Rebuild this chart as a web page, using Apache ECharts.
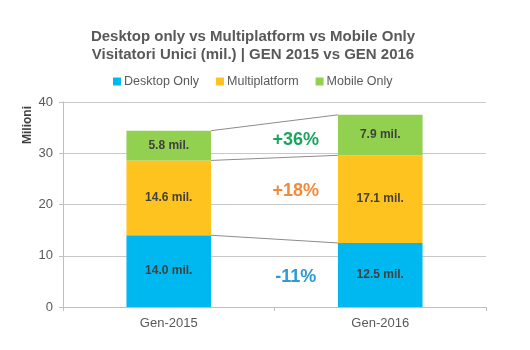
<!DOCTYPE html>
<html>
<head>
<meta charset="utf-8">
<script src="https://cdn.jsdelivr.net/npm/echarts@6/dist/echarts.min.js"></script>
<style>
  html, body { margin: 0; padding: 0; background: #fff; }
  #chart { width: 530px; height: 350px; }
</style>
</head>
<body>
<div id="chart"></div>
<script>
const categories = ['Gen-2015', 'Gen-2016'];
const desktopOnly = [14.0, 12.5];
const multiplatform = [14.6, 17.1];
const mobileOnly = [5.8, 7.9];
const changes = ['-11%', '+18%', '+36%'];
// value on the y axis where each change label sits
const changeAt = [5.9, 22.6, 32.6];
const yTicks = [0, 10, 20, 30, 40];

const seriesNames = ['Desktop Only', 'Multiplatform', 'Mobile Only'];
const colors = ['#00B8F0', '#FFC31F', '#92D050'];
const changeColors = ['#2E9AD4', '#F28A3C', '#1AA55E'];
const FONT = '"Liberation Sans", Arial, sans-serif';

const segments = [desktopOnly, multiplatform, mobileOnly];
// cumulative tops of every segment, per category
const tops = segments.map((s, i) =>
  categories.map((c, j) => segments.slice(0, i + 1).reduce((a, arr) => a + arr[j], 0))
);

const chart = echarts.init(document.getElementById('chart'));

function renderLinks(params, api) {
  const i = api.value(0);
  const band = api.size([1, 0])[0];
  const half = band * 0.2;
  const p0 = api.coord([0, tops[i][0]]);
  const p1 = api.coord([1, tops[i][1]]);
  const lp = api.coord([0, changeAt[i]]);
  const lx = p0[0] + (p1[0] - p0[0]) * 0.6;
  return {
    type: 'group',
    children: [
      {
        type: 'line',
        shape: { x1: p0[0] + half, y1: p0[1], x2: p1[0] - half, y2: p1[1] },
        style: { stroke: '#8C8C8C', lineWidth: 1 }
      },
      {
        type: 'text',
        x: lx, y: lp[1],
        style: {
          text: changes[i], fill: changeColors[i], font: 'bold 18px ' + FONT,
          align: 'center', verticalAlign: 'middle'
        }
      }
    ]
  };
}

const barSeries = seriesNames.map((name, i) => ({
  name: name,
  type: 'bar',
  stack: 'total',
  barWidth: '40%',
  itemStyle: { color: colors[i] },
  label: {
    show: true,
    position: 'inside',
    formatter: p => p.value.toFixed(1) + ' mil.',
    color: '#404040',
    fontWeight: 'bold',
    fontSize: 12,
    fontFamily: FONT
  },
  data: segments[i]
}));

chart.setOption({
  animation: false,
  title: {
    text: 'Desktop only vs Multiplatform vs Mobile Only\nVisitatori Unici (mil.) | GEN 2015 vs GEN 2016',
    left: 248,
    top: 23,
    textAlign: 'center',
    textStyle: { fontFamily: FONT, fontSize: 15, fontWeight: 'bold', color: '#595959', lineHeight: 18 }
  },
  legend: {
    data: seriesNames,
    top: 70,
    left: 108,
    icon: 'rect',
    itemWidth: 8,
    itemHeight: 8,
    itemGap: 17,
    textStyle: { fontFamily: FONT, fontSize: 12.5, color: '#595959', padding: [0, 0, 0, -2] }
  },
  grid: { left: 63, right: 44, top: 102, bottom: 43 },
  xAxis: {
    type: 'category',
    data: categories,
    axisLine: { lineStyle: { color: '#BFBFBF' } },
    axisTick: { show: true, length: 4, lineStyle: { color: '#BFBFBF' } },
    axisLabel: { color: '#595959', fontSize: 13, fontFamily: FONT, margin: 10 }
  },
  yAxis: {
    type: 'value',
    min: yTicks[0],
    max: yTicks[yTicks.length - 1],
    interval: yTicks[1] - yTicks[0],
    axisLine: { show: true, lineStyle: { color: '#BFBFBF' } },
    axisTick: { show: true, length: 4, lineStyle: { color: '#BFBFBF' } },
    axisLabel: { color: '#595959', fontSize: 13, fontFamily: FONT, margin: 10 },
    splitLine: { lineStyle: { color: '#C8C8C8' } }
  },
  graphic: [{
    type: 'text',
    x: 28, y: 125,
    rotation: Math.PI / 2,
    style: {
      text: 'Milioni', fill: '#404040', font: 'bold 12px ' + FONT,
      align: 'center', verticalAlign: 'middle'
    }
  }],
  series: barSeries.concat([{
    type: 'custom',
    renderItem: renderLinks,
    silent: true,
    z: 5,
    data: [[0], [1], [2]]
  }])
});
</script>
</body>
</html>
